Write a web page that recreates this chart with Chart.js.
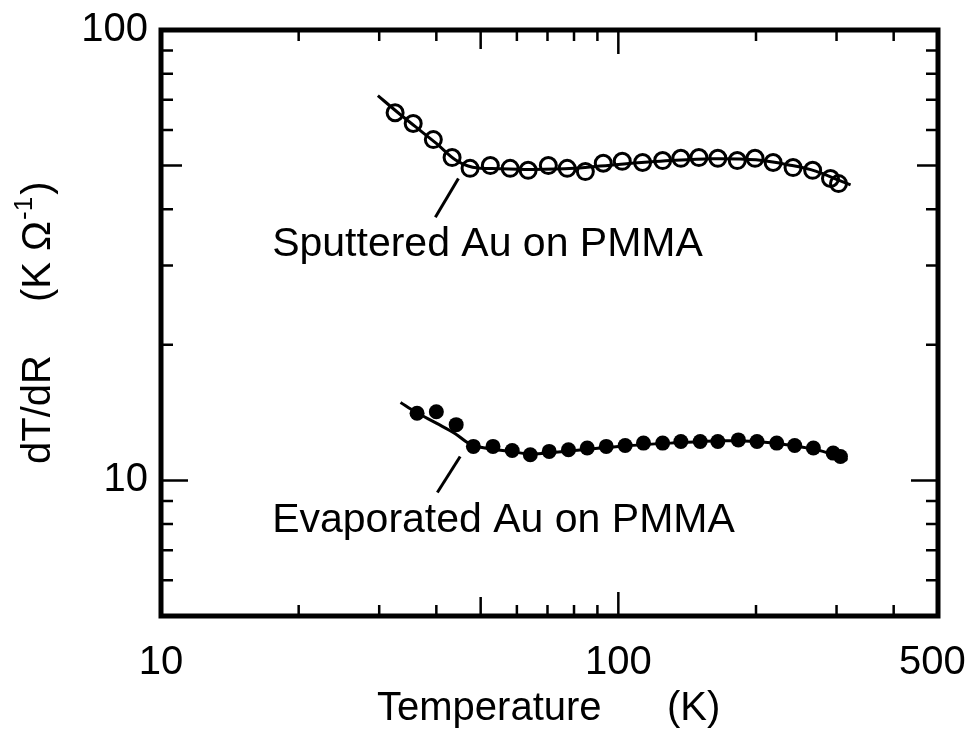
<!DOCTYPE html>
<html>
<head>
<meta charset="utf-8">
<script src="https://cdn.jsdelivr.net/npm/chart.js@4.4.1/dist/chart.umd.min.js"></script>
<style>
  html, body { margin: 0; padding: 0; background: #fff; }
  #wrap { width: 969px; height: 731px; position: relative; }
</style>
</head>
<body>
<div id="wrap"><canvas id="chart"></canvas></div>
<script>
// Sputtered Au on PMMA - open circles
const sputT = [32.5, 35.6, 39.4, 43.3, 47.4, 52.5, 58.0, 63.5, 70.3, 77.3, 84.7, 92.7, 102, 113, 125, 137, 150, 165, 182, 199, 218, 241, 266, 291, 303];
const sputV = [65.5, 62.0, 57.1, 52.1, 49.3, 50.0, 49.3, 48.8, 50.0, 49.3, 48.5, 50.6, 51.1, 50.8, 51.3, 51.9, 52.1, 51.9, 51.3, 51.9, 50.8, 49.5, 48.8, 46.8, 45.6];
// fitted curve through sputtered data
const sputFitT = [29.8, 33, 36, 40, 44, 48, 55, 65, 80, 100, 130, 160, 200, 240, 270, 300, 322];
const sputFitV = [71.5, 65.5, 61, 56, 51.5, 49.6, 49.2, 49.0, 49.3, 50.3, 51.3, 51.8, 51.5, 50.0, 48.6, 46.6, 45.3];

// Evaporated Au on PMMA - filled circles
const evapT = [36.3, 40.0, 44.2, 48.2, 53.2, 58.6, 64.2, 70.6, 77.8, 85.5, 94.1, 103.5, 113.5, 125, 137, 151, 165, 183, 201, 222, 243, 267, 295, 306];
const evapV = [14.1, 14.2, 13.3, 11.9, 11.9, 11.65, 11.4, 11.6, 11.7, 11.8, 11.9, 11.95, 12.1, 12.1, 12.2, 12.2, 12.2, 12.3, 12.2, 12.1, 11.95, 11.8, 11.5, 11.3];
// fitted curve through evaporated data
const evapFitT = [33.4, 36, 40, 44, 47, 50, 58, 65, 80, 100, 130, 170, 200, 240, 280, 317];
const evapFitV = [14.9, 14.2, 13.4, 12.7, 12.1, 11.85, 11.6, 11.45, 11.65, 11.9, 12.1, 12.25, 12.2, 11.95, 11.6, 11.1];

// leader lines from labels to curves
const sputLeaderT = [44.7, 39.8];
const sputLeaderV = [46.8, 38.4];
const evapLeaderT = [45.1, 40.2];
const evapLeaderV = [11.3, 9.4];

// axes
const xLabelTicks = [10, 100, 500];
const yLabelTicks = [10, 100];
const xMinorTicks = [20, 30, 40, 60, 70, 80, 90, 200, 300, 400];
const xMidTicks = [50];
const xMajorTicks = [100];
const yMinorTicks = [6, 7, 8, 9, 20, 30, 40, 60, 70, 80, 90];
const yMidTicks = [50];
const yMajorTicks = [10];

const FONT = '"Liberation Sans", Arial, Helvetica, sans-serif';

function pts(xs, ys) {
  return xs.map((x, i) => ({ x: x, y: ys[i] }));
}

// frame, inward ticks, axis titles and curve labels
const framePlugin = {
  id: 'frame',
  afterDraw(chart) {
    const ctx = chart.ctx;
    const a = chart.chartArea;
    const xs = chart.scales.x, ys = chart.scales.y;
    ctx.save();
    ctx.strokeStyle = '#000';
    ctx.lineWidth = 2.5;
    function xt(list, len) {
      list.forEach(v => {
        const px = xs.getPixelForValue(v);
        ctx.beginPath();
        ctx.moveTo(px, a.bottom); ctx.lineTo(px, a.bottom - len);
        ctx.moveTo(px, a.top); ctx.lineTo(px, a.top + len);
        ctx.stroke();
      });
    }
    function yt(list, len) {
      list.forEach(v => {
        const py = ys.getPixelForValue(v);
        ctx.beginPath();
        ctx.moveTo(a.left, py); ctx.lineTo(a.left + len, py);
        ctx.moveTo(a.right, py); ctx.lineTo(a.right - len, py);
        ctx.stroke();
      });
    }
    xt(xMinorTicks, 11); xt(xMidTicks, 19); xt(xMajorTicks, 24);
    yt(yMinorTicks, 12); yt(yMidTicks, 21); yt(yMajorTicks, 27);

    ctx.lineWidth = 5;
    ctx.strokeRect(a.left, a.top, a.right - a.left, a.bottom - a.top);

    ctx.fillStyle = '#000';
    // x title
    ctx.font = '40px ' + FONT;
    ctx.textBaseline = 'alphabetic';
    ctx.textAlign = 'left';
    ctx.fillText('Temperature', 377, 720);
    ctx.fillText('(K)', 667, 720);

    // y title, rotated
    ctx.save();
    ctx.rotate(-Math.PI / 2);
    ctx.textAlign = 'left';
    ctx.font = '40px ' + FONT;
    ctx.fillText('dT/dR', -464, 50);
    const p1 = '(K \u03A9';
    ctx.fillText(p1, -302, 50);
    let off = -302 + ctx.measureText(p1).width + 1;
    ctx.font = '26px ' + FONT;
    ctx.fillText('-1', off, 32);
    off += ctx.measureText('-1').width + 2;
    ctx.font = '40px ' + FONT;
    ctx.fillText(')', off, 50);
    ctx.restore();

    // curve labels
    ctx.font = '41px ' + FONT;
    ctx.textAlign = 'left';
    ctx.fillText('Sputtered Au on PMMA', xs.getPixelForValue(17.5), ys.getPixelForValue(31.5));
    ctx.fillText('Evaporated Au on PMMA', xs.getPixelForValue(17.5), ys.getPixelForValue(7.67));
    ctx.restore();
  }
};

const lineStyle = {
  type: 'line', showLine: true, borderColor: '#000', borderWidth: 3,
  pointRadius: 0, fill: false, tension: 0.35, order: 2
};

new Chart(document.getElementById('chart'), {
  type: 'scatter',
  data: {
    datasets: [
      Object.assign({ label: 'sputFit', data: pts(sputFitT, sputFitV) }, lineStyle),
      Object.assign({ label: 'evapFit', data: pts(evapFitT, evapFitV) }, lineStyle),
      Object.assign({ label: 'sputLead', data: pts(sputLeaderT, sputLeaderV) }, lineStyle, { tension: 0 }),
      Object.assign({ label: 'evapLead', data: pts(evapLeaderT, evapLeaderV) }, lineStyle, { tension: 0 }),
      {
        label: 'Sputtered Au on PMMA', data: pts(sputT, sputV),
        pointRadius: 8, pointBorderWidth: 3, pointBorderColor: '#000',
        pointBackgroundColor: 'rgba(0,0,0,0)', order: 1
      },
      {
        label: 'Evaporated Au on PMMA', data: pts(evapT, evapV),
        pointRadius: 7.5, pointBorderWidth: 0, pointBackgroundColor: '#000', order: 1
      }
    ]
  },
  options: {
    responsive: true,
    maintainAspectRatio: false,
    animation: false,
    layout: { padding: { top: 30, right: 31, left: 0, bottom: 0 } },
    plugins: { legend: { display: false }, tooltip: { enabled: false } },
    scales: {
      x: {
        type: 'logarithmic', min: 10, max: 500,
        grid: { display: false, drawTicks: false },
        border: { display: false },
        ticks: {
          color: '#000', font: { family: FONT, size: 40 }, padding: 23,
          maxRotation: 0, autoSkip: false,
          // trailing space nudges the last label back inside the canvas
          callback: v => !xLabelTicks.includes(v) ? '' : (v === 500 ? '500 ' : String(v))
        },
        afterBuildTicks: s => { s.ticks = xLabelTicks.map(v => ({ value: v })); },
        afterFit: s => { s.height = 115; s.paddingLeft = 0; s.paddingRight = 0; }
      },
      y: {
        type: 'logarithmic', min: 5, max: 100,
        grid: { display: false, drawTicks: false },
        border: { display: false },
        ticks: {
          color: '#000', font: { family: FONT, size: 40 }, padding: 13,
          autoSkip: false,
          callback: v => yLabelTicks.includes(v) ? String(v) : ''
        },
        afterBuildTicks: s => { s.ticks = yLabelTicks.map(v => ({ value: v })); },
        afterFit: s => { s.width = 161; s.paddingTop = 0; s.paddingBottom = 0; }
      }
    }
  },
  plugins: [framePlugin]
});
</script>
</body>
</html>
